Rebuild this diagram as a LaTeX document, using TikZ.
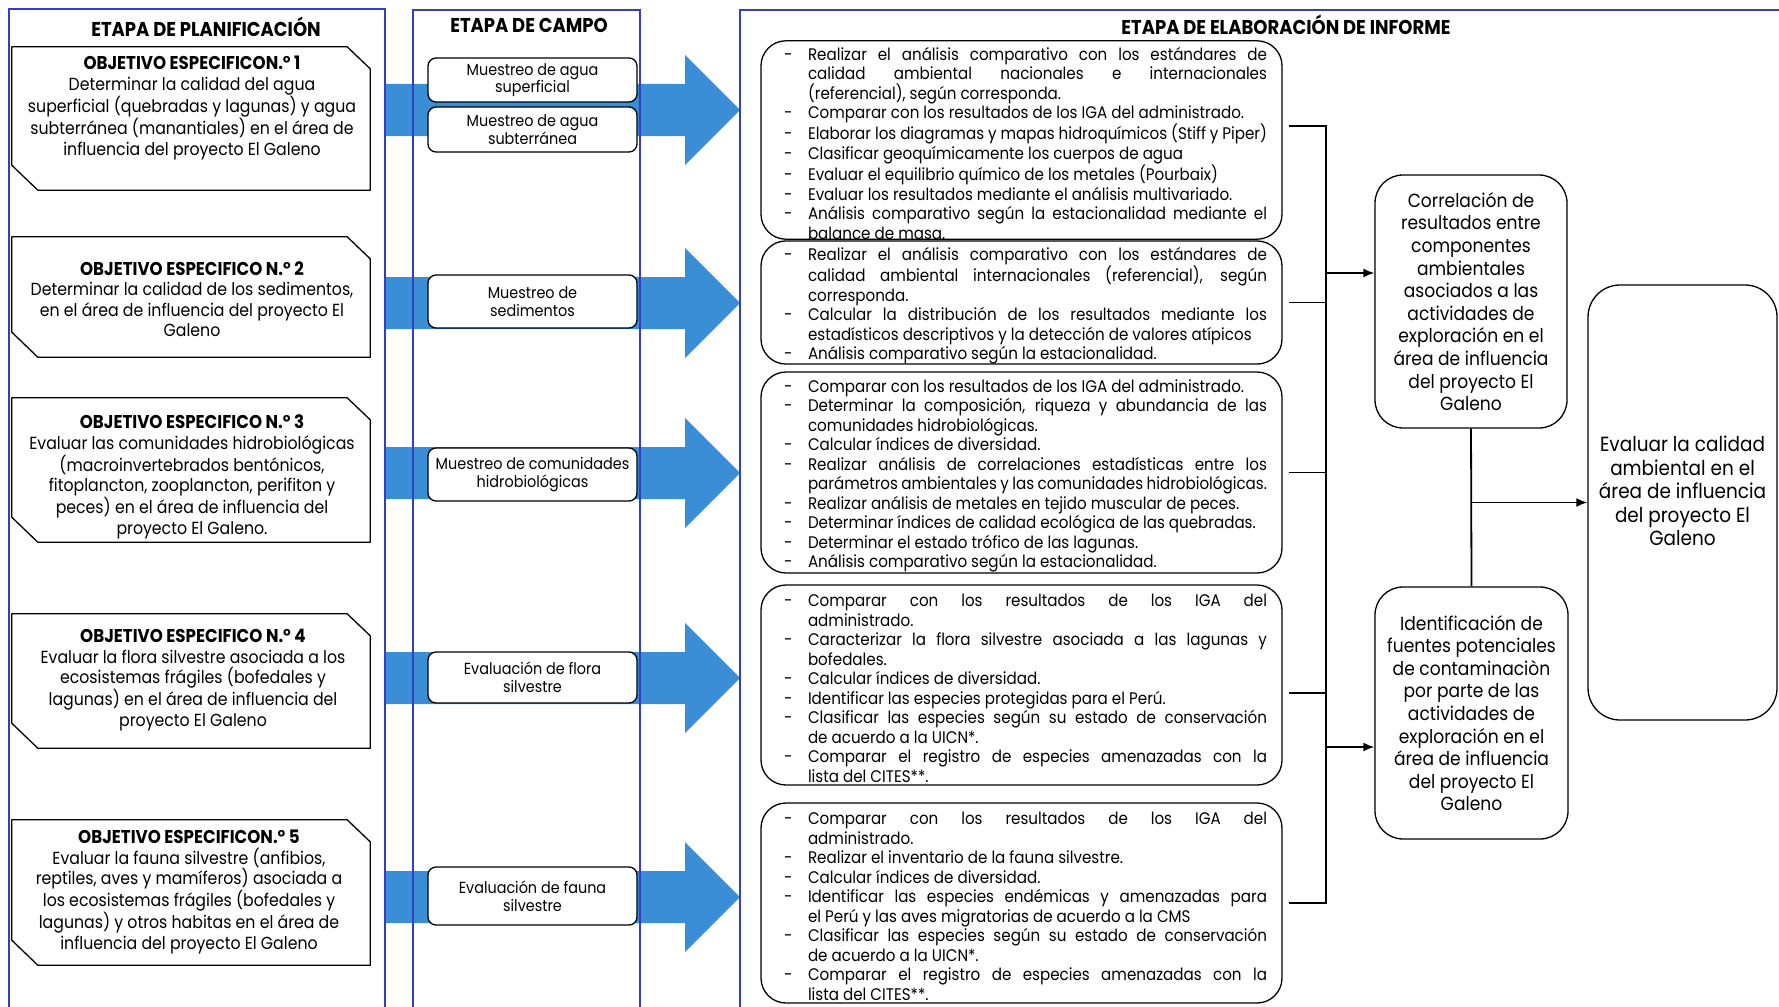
\documentclass[tikz,border=0pt]{standalone}
\usepackage{fontspec}
\setmainfont{Poppins}[FakeStretch=0.9]
\usetikzlibrary{arrows.meta}

\definecolor{stageblue}{RGB}{52,62,196}
\definecolor{arrowblue}{RGB}{58,142,214}

% dash item with hanging indent
\newcommand{\itm}{\par\hangindent=32pt\hangafter=1\noindent\makebox[32pt][l]{\hspace{8pt}-}}
\newcommand{\objhead}[1]{{\fontsize{18.5}{20.5}\selectfont\bfseries #1}}

\tikzset{
    stage/.style={draw=stageblue, line width=1.2pt},
    title/.style={font=\fontsize{20}{24}\selectfont\bfseries},
    objbox/.style={minimum width=358pt, inner sep=0pt},
    objline/.style={line width=1.3pt, line join=round},
    objtext/.style={inner sep=0pt, align=center, font=\fontsize{17.5}{20.5}\selectfont},
    fieldbox/.style={draw, fill=white, line width=1.3pt, rounded corners=8pt,
        minimum width=209pt, inner sep=0pt, align=center,
        font=\fontsize{16}{17.5}\selectfont},
    listbox/.style={draw, line width=1.3pt, rounded corners=25pt,
        text width=491pt, inner xsep=15pt, inner ysep=0pt, align=justify,
        font=\fontsize{16.8}{19.5}\selectfont},
    resbox/.style={draw, line width=1.3pt, rounded corners=28pt, inner sep=0pt,
        align=center, font=\fontsize{19}{22.6}\selectfont},
    conn/.style={line width=1.8pt},
    arr/.style={conn, -{Latex[length=11pt,width=9pt]}}
}

\begin{document}
\begin{tikzpicture}[x=1pt,y=-1pt]
\useasboundingbox (0,0) rectangle (1779,1006);

    %big arrows
    \foreach \yc in {110,303,473,678,897}
        \fill[arrowblue] (385,\yc-26) -- (685,\yc-26) -- (685,\yc-55) -- (740,\yc)
            -- (685,\yc+55) -- (685,\yc+26) -- (385,\yc+26) -- cycle;

    %stage frames
    \draw[stage] (9,1010) -- (9,9) -- (385,9) -- (385,1010);
    \draw[stage] (413,1010) -- (413,10) -- (640,10) -- (640,1010);
    \draw[stage] (740,1010) -- (740,10) -- (1790,10);

    \node[title] (tplan) at (206,27) {ETAPA DE PLANIFICACIÓN};
    \node[title] (tcampo) at (529,25) {ETAPA DE CAMPO};
    \node[title] (tinforme) at (1286,25) {ETAPA DE ELABORACIÓN DE INFORME};

    %objectives
    \node[objbox, minimum height=143pt] (obj1) at (191,118.5) {};
    \node[objbox, minimum height=120pt] (obj2) at (191,297) {};
    \node[objbox, minimum height=144pt] (obj3) at (191,470) {};
    \node[objbox, minimum height=134pt] (obj4) at (191,681) {};
    \node[objbox, minimum height=145pt] (obj5) at (191,892.5) {};
    \foreach \o in {obj1,obj2,obj3,obj4,obj5}
        \draw[objline] (\o.north west) -- ([xshift=-23pt]\o.north east) -- ([yshift=-22pt]\o.north east)
            -- (\o.south east) -- ([xshift=26pt]\o.south west) -- ([yshift=25pt]\o.south west) -- cycle;
    \node[objtext] (obj1txt) at (192,108) {\objhead{OBJETIVO ESPECIFICON.° 1}\\
        Determinar la calidad del agua\\ superficial (quebradas y lagunas) y agua\\
        subterránea (manantiales) en el área de\\ influencia del proyecto El Galeno};
    \node[objtext] (obj2txt) at (192,299) {\objhead{OBJETIVO ESPECIFICO N.° 2}\\
        Determinar la calidad de los sedimentos,\\ en el área de influencia del proyecto El\\ Galeno};
    \node[objtext] (obj3txt) at (192,477) {\objhead{OBJETIVO ESPECIFICO N.° 3}\\
        Evaluar las comunidades hidrobiológicas\\ (macroinvertebrados bentónicos,\\
        fitoplancton, zooplancton, perifiton y\\ peces) en el área de influencia del\\ proyecto El Galeno.};
    \node[objtext] (obj4txt) at (193,680) {\objhead{OBJETIVO ESPECIFICO N.° 4}\\
        Evaluar la flora silvestre asociada a los\\ ecosistemas frágiles (bofedales y\\
        lagunas) en el área de influencia del\\ proyecto El Galeno};
    \node[objtext] (obj5txt) at (189,892) {\objhead{OBJETIVO ESPECIFICON.° 5}\\
        Evaluar la fauna silvestre (anfibios,\\ reptiles, aves y mamíferos) asociada a\\
        los ecosistemas frágiles (bofedales y\\ lagunas) y otros habitas en el área de\\
        influencia del proyecto El Galeno};

    %field work
    \node[fieldbox, minimum height=44pt] (m1) at (532.5,80) {Muestreo de agua\\ superficial};
    \node[fieldbox, minimum height=45pt] (m2) at (532.5,129.5) {Muestreo de agua\\ subterránea};
    \node[fieldbox, minimum height=53pt] (m3) at (532.5,301.5) {Muestreo de\\ sedimentos};
    \node[fieldbox, minimum height=53pt] (m4) at (532.5,474.5) {Muestreo de comunidades\\ hidrobiológicas};
    \node[fieldbox, minimum height=51pt] (m5) at (532.5,677.5) {Evaluación de flora\\ silvestre};
    \node[fieldbox, minimum height=58pt] (m6) at (532.5,896) {Evaluación de fauna\\ silvestre};

    %report tasks
    \node[listbox, minimum height=194pt] (r1) at (1021.5,140) {%
        \itm Realizar el análisis comparativo con los estándares de\linebreak
        calidad ambiental nacionales e internacionales\linebreak (referencial), según corresponda.
        \itm Comparar con los resultados de los IGA del administrado.
        \itm Elaborar los diagramas y mapas hidroquímicos (Stiff y Piper)
        \itm Clasificar geoquímicamente los cuerpos de agua
        \itm Evaluar el equilibrio químico de los metales (Pourbaix)
        \itm Evaluar los resultados mediante el análisis multivariado.
        \itm Análisis comparativo según la estacionalidad mediante el\linebreak balance de masa.\par};
    \node[listbox, minimum height=119pt] (r2) at (1021.5,302.5) {%
        \itm Realizar el análisis comparativo con los estándares de\linebreak
        calidad ambiental internacionales (referencial), según\linebreak corresponda.
        \itm Calcular la distribución de los resultados mediante los\linebreak
        estadísticos descriptivos y la detección de valores atípicos
        \itm Análisis comparativo según la estacionalidad.\par};
    \node[listbox, minimum height=201pt] (r3) at (1021.5,472.5) {%
        \itm Comparar con los resultados de los IGA del administrado.
        \itm Determinar la composición, riqueza y abundancia de las\linebreak
        comunidades hidrobiológicas.
        \itm Calcular índices de diversidad.
        \itm Realizar análisis de correlaciones estadísticas entre los\linebreak
        parámetros ambientales y las comunidades hidrobiológicas.
        \itm Realizar análisis de metales en tejido muscular de peces.
        \itm Determinar índices de calidad ecológica de las quebradas.
        \itm Determinar el estado trófico de las lagunas.
        \itm Análisis comparativo según la estacionalidad.\par};
    \node[listbox, minimum height=200pt] (r4) at (1021.5,685) {%
        \itm Comparar con los resultados de los IGA del\linebreak administrado.
        \itm Caracterizar la flora silvestre asociada a las lagunas y\linebreak bofedales.
        \itm Calcular índices de diversidad.
        \itm Identificar las especies protegidas para el Perú.
        \itm Clasificar las especies según su estado de conservación\linebreak
        de acuerdo a la UICN*.
        \itm Comparar el registro de especies amenazadas con la\linebreak lista del CITES**.\par};
    \node[listbox, minimum height=200pt] (r5) at (1021.5,903) {%
        \itm Comparar con los resultados de los IGA del\linebreak administrado.
        \itm Realizar el inventario de la fauna silvestre.
        \itm Calcular índices de diversidad.
        \itm Identificar las especies endémicas y amenazadas para\linebreak
        el Perú y las aves migratorias de acuerdo a la CMS
        \itm Clasificar las especies según su estado de conservación\linebreak
        de acuerdo a la UICN*.
        \itm Comparar el registro de especies amenazadas con la\linebreak lista del CITES**.\par};

    %results
    \node[resbox, minimum width=192pt, minimum height=253pt] (corr) at (1471,301.5) {Correlación de\\
        resultados entre\\ componentes\\ ambientales\\ asociados a las\\ actividades de\\
        exploración en el\\ área de influencia\\ del proyecto El\\ Galeno};
    \node[resbox, minimum width=193pt, minimum height=252pt] (ident) at (1471.5,713) {Identificación de\\
        fuentes potenciales\\ de contaminaciòn\\ por parte de las\\ actividades de\\
        exploración en el\\ área de influencia\\ del proyecto El\\ Galeno};
    \node[resbox, minimum width=189pt, minimum height=435pt, rounded corners=32pt,
        font=\fontsize{20.5}{23.5}\selectfont] (final) at (1682.5,502.5) {Evaluar la calidad\\
        ambiental en el\\ área de influencia\\ del proyecto El\\ Galeno\\ \mbox{}};

    %connectors
    \coordinate (bus) at (1326,126);
    \coordinate (busend) at (1326,903);
    \draw[conn] (bus) -- (busend);
    \foreach \b/\dy in {r1/14,r2/0,r3/0,r4/-8,r5/0}
        \draw[conn] ([xshift=6pt,yshift=\dy pt]\b.east) -- ++(38,0);
    \coordinate (cin) at ([yshift=28.5pt]corr.west);
    \coordinate (iin) at ([yshift=-34pt]ident.west);
    \draw[arr] (bus |- cin) -- (cin);
    \draw[arr] (bus |- iin) -- (iin);
    \draw[conn] (corr.south) -- (ident.north);
    \draw[arr] (corr.south |- final.west) -- (final.west);
\end{tikzpicture}
\end{document}
